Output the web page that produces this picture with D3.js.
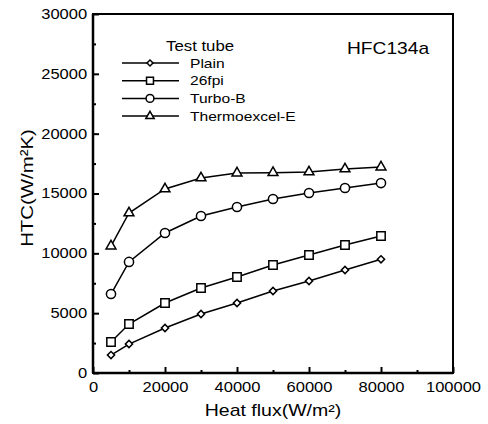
<!DOCTYPE html>
<html>
<head>
<meta charset="utf-8">
<script src="https://cdn.jsdelivr.net/npm/d3@7"></script>
<style>
  body { margin: 0; background: #fff; }
  text { font-family: "Liberation Sans", Arial, sans-serif; fill: #000; }
</style>
</head>
<body>
<div id="chart"></div>
<script>
// heat flux values (W/m2)
const heatFlux = [5000, 10000, 20000, 30000, 40000, 50000, 60000, 70000, 80000];

// HTC values (W/m2K) per test tube
const plain = [1500, 2420, 3760, 4930, 5850, 6850, 7690, 8610, 9500];
const fpi26 = [2590, 4095, 5850, 7100, 8020, 9030, 9860, 10700, 11450];
const turboB = [6600, 9280, 11700, 13120, 13870, 14540, 15040, 15460, 15870];
const thermoE = [10610, 13370, 15380, 16300, 16710, 16740, 16800, 17050, 17210];

const seriesNames = ["Plain", "26fpi", "Turbo-B", "Thermoexcel-E"];
const seriesValues = [plain, fpi26, turboB, thermoE];
const markerTypes = ["diamond", "square", "circle", "triangle"];

const xTicks = [0, 20000, 40000, 60000, 80000, 100000];
const yTicks = [0, 5000, 10000, 15000, 20000, 25000, 30000];

const width = 488;
const height = 424;
const margin = { left: 93, right: 35, top: 14, bottom: 51 };

// the scanned figure has wide-looking type, so stretch text a bit
const stretch = 1.18;

const svg = d3
  .select("#chart")
  .append("svg")
  .attr("width", width)
  .attr("height", height);

const x = d3
  .scaleLinear()
  .domain([0, 100000])
  .range([margin.left, width - margin.right]);

const y = d3
  .scaleLinear()
  .domain([0, 30000])
  .range([height - margin.bottom, margin.top]);

function addText(parent, tx, ty, str, size, sx, anchor, rot) {
  return parent
    .append("text")
    .attr("transform", `translate(${tx},${ty})` + (rot ? ` rotate(${rot})` : "") + ` scale(${sx},1)`)
    .attr("text-anchor", anchor || "start")
    .attr("font-size", size)
    .text(str);
}

// frame
svg
  .append("rect")
  .attr("x", x(0))
  .attr("y", y(30000))
  .attr("width", x(100000) - x(0))
  .attr("height", y(0) - y(30000))
  .attr("fill", "none")
  .attr("stroke", "#000")
  .attr("stroke-width", 2);
svg.append("line")
  .attr("x1", x(0)).attr("x2", x(0)).attr("y1", y(30000)).attr("y2", y(0))
  .attr("stroke", "#000").attr("stroke-width", 2.5);
svg.append("line")
  .attr("x1", x(0)).attr("x2", x(100000)).attr("y1", y(0)).attr("y2", y(0))
  .attr("stroke", "#000").attr("stroke-width", 2.5);

// x axis: inward ticks, minor every 10000
const xAxis = svg
  .append("g")
  .attr("transform", `translate(0,${y(0)})`)
  .call(
    d3.axisBottom(x).tickValues(xTicks).tickSize(-6).tickPadding(9)
      .tickFormat(d3.format("d"))
  );
xAxis.select(".domain").remove();
xAxis.selectAll("line").attr("stroke-width", 2);
xAxis.selectAll("text")
  .attr("font-size", 14)
  .attr("font-family", "Liberation Sans, Arial, sans-serif")
  .attr("transform", `scale(${stretch},1)`);

svg
  .append("g")
  .attr("transform", `translate(0,${y(0)})`)
  .call(d3.axisBottom(x).tickValues(d3.range(10000, 100000, 20000)).tickSize(-3).tickFormat(""))
  .call((g) => g.select(".domain").remove())
  .selectAll("line")
  .attr("stroke-width", 2);

// y axis
const yAxis = svg
  .append("g")
  .attr("transform", `translate(${x(0)},0)`)
  .call(
    d3.axisLeft(y).tickValues(yTicks).tickSize(-6).tickPadding(5)
      .tickFormat(d3.format("d"))
  );
yAxis.select(".domain").remove();
yAxis.selectAll("line").attr("stroke-width", 2);
yAxis.selectAll("text")
  .attr("font-size", 14)
  .attr("font-family", "Liberation Sans, Arial, sans-serif")
  .attr("transform", `scale(${stretch},1)`);

svg
  .append("g")
  .attr("transform", `translate(${x(0)},0)`)
  .call(d3.axisLeft(y).tickValues(d3.range(2500, 30000, 5000)).tickSize(-3).tickFormat(""))
  .call((g) => g.select(".domain").remove())
  .selectAll("line")
  .attr("stroke-width", 2);

// axis titles
addText(svg, (x(0) + x(100000)) / 2, 416, "Heat flux(W/m²)", 16, 1.22, "middle");
addText(svg, 33, 188, "HTC(W/m²K)", 17, 1.2, "middle", -90);

// marker drawing
const bigMarkers = {
  diamond: d3.symbol().type(d3.symbolSquare).size(26),
  square: d3.symbol().type(d3.symbolSquare).size(70),
  circle: d3.symbol().type(d3.symbolCircle).size(66),
  triangle: d3.symbol().type(d3.symbolTriangle).size(42),
};
const smallMarkers = {
  diamond: d3.symbol().type(d3.symbolSquare).size(18),
  square: d3.symbol().type(d3.symbolSquare).size(48),
  circle: d3.symbol().type(d3.symbolCircle).size(48),
  triangle: d3.symbol().type(d3.symbolTriangle).size(30),
};

function drawMarker(g, set, type, cx, cy) {
  g.append("path")
    .attr("d", set[type]())
    .attr("transform", `translate(${cx},${cy})` + (type === "diamond" ? " rotate(45)" : ""))
    .attr("fill", "#fff")
    .attr("stroke", "#000")
    .attr("stroke-width", 1.5);
}

const line = d3
  .line()
  .x((d, i) => x(heatFlux[i]))
  .y((d) => y(d));

seriesValues.forEach((vals, s) => {
  const g = svg.append("g");
  g.append("path")
    .attr("d", line(vals))
    .attr("fill", "none")
    .attr("stroke", "#000")
    .attr("stroke-width", 1.5);
  vals.forEach((v, i) => drawMarker(g, bigMarkers, markerTypes[s], x(heatFlux[i]), y(v)));
});

// legend
const legend = svg.append("g");
addText(legend, 166, 51, "Test tube", 14, 1.2);

seriesNames.forEach((name, i) => {
  const ly = 63 + i * 17.7;
  legend
    .append("line")
    .attr("x1", 122)
    .attr("x2", 179)
    .attr("y1", ly)
    .attr("y2", ly)
    .attr("stroke", "#000")
    .attr("stroke-width", 1.5);
  drawMarker(legend, smallMarkers, markerTypes[i], 150, ly);
  addText(legend, 190, ly + 4.5, name, 12, 1.3);
});

addText(svg, 347, 54, "HFC134a", 16, 1.2);
</script>
</body>
</html>
